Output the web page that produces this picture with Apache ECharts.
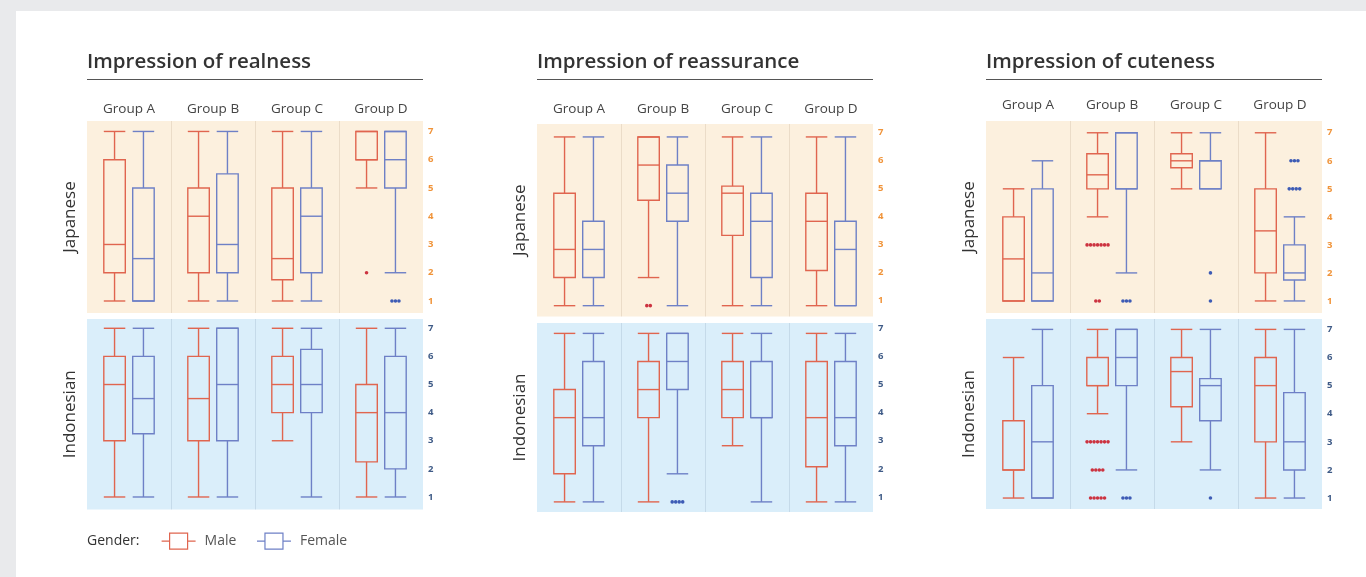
<!DOCTYPE html>
<html>
<head>
<meta charset="utf-8">
<title>Impression ratings by group, gender and country</title>
<script src="https://cdn.jsdelivr.net/npm/echarts@6/dist/echarts.min.js"></script>
<style>
  html, body { margin: 0; padding: 0; background: #e9eaec; }
  #chart { width: 1366px; height: 577px; }
</style>
</head>
<body>
<div id="chart"></div>
<script>
// ---- data -------------------------------------------------------------
const groups = ['Group A', 'Group B', 'Group C', 'Group D'];
const genders = ['Male', 'Female'];
const panelTitles = ['Impression of realness', 'Impression of reassurance', 'Impression of cuteness'];
const rowNames = ['Japanese', 'Indonesian'];
const yTicks = [1, 2, 3, 4, 5, 6, 7];

// five-number summaries per group: [min, Q1, median, Q3, max]
const realJpMale   = [[1, 2, 3, 6, 7], [1, 2, 4, 5, 7], [1, 1.75, 2.5, 5, 7], [5, 6, 6, 7, 7]];
const realJpFemale = [[1, 1, 2.5, 5, 7], [1, 2, 3, 5.5, 7], [1, 2, 4, 5, 7], [2, 5, 6, 7, 7]];
const realIdMale   = [[1, 3, 5, 6, 7], [1, 3, 4.5, 6, 7], [3, 4, 5, 6, 7], [1, 2.25, 4, 5, 7]];
const realIdFemale = [[1, 3.25, 4.5, 6, 7], [1, 3, 5, 7, 7], [1, 4, 5, 6.25, 7], [1, 2, 4, 6, 7]];

const reasJpMale   = [[1, 2, 3, 5, 7], [2, 4.75, 6, 7, 7], [1, 3.5, 5, 5.25, 7], [1, 2.25, 4, 5, 7]];
const reasJpFemale = [[1, 2, 3, 4, 7], [1, 4, 5, 6, 7], [1, 2, 4, 5, 7], [1, 1, 3, 4, 7]];
const reasIdMale   = [[1, 2, 4, 5, 7], [1, 4, 5, 6, 7], [3, 4, 5, 6, 7], [1, 2.25, 4, 6, 7]];
const reasIdFemale = [[1, 3, 4, 6, 7], [2, 5, 6, 7, 7], [1, 4, 4, 6, 7], [1, 3, 4, 6, 7]];

const cuteJpMale   = [[1, 1, 2.5, 4, 5], [4, 5, 5.5, 6.25, 7], [5, 5.75, 6, 6.25, 7], [1, 2, 3.5, 5, 7]];
const cuteJpFemale = [[1, 1, 2, 5, 6], [2, 5, 5, 7, 7], [5, 5, 6, 6, 7], [1, 1.75, 2, 3, 4]];
const cuteIdMale   = [[1, 2, 2, 3.75, 6], [4, 5, 5, 6, 7], [3, 4.25, 5.5, 6, 7], [1, 3, 5, 6, 7]];
const cuteIdFemale = [[1, 1, 3, 5, 7], [2, 5, 6, 7, 7], [2, 3.75, 5, 5.25, 7], [1, 2, 3, 4.75, 7]];

// outlying responses: [group index, rating, number of respondents]
const realJpMaleOut   = [[3, 2, 1]];
const realJpFemaleOut = [[3, 1, 3]];
const realIdMaleOut   = [];
const realIdFemaleOut = [];
const reasJpMaleOut   = [[1, 1, 2]];
const reasJpFemaleOut = [];
const reasIdMaleOut   = [];
const reasIdFemaleOut = [[1, 1, 4]];
const cuteJpMaleOut   = [[1, 3, 7], [1, 1, 2]];
const cuteJpFemaleOut = [[1, 1, 3], [2, 2, 1], [2, 1, 1], [3, 6, 3], [3, 5, 4]];
const cuteIdMaleOut   = [[1, 3, 7], [1, 2, 4], [1, 1, 5]];
const cuteIdFemaleOut = [[1, 1, 3], [2, 1, 1]];

const panelData = [
  { boxes: [[realJpMale, realJpFemale], [realIdMale, realIdFemale]],
    outliers: [[realJpMaleOut, realJpFemaleOut], [realIdMaleOut, realIdFemaleOut]] },
  { boxes: [[reasJpMale, reasJpFemale], [reasIdMale, reasIdFemale]],
    outliers: [[reasJpMaleOut, reasJpFemaleOut], [reasIdMaleOut, reasIdFemaleOut]] },
  { boxes: [[cuteJpMale, cuteJpFemale], [cuteIdMale, cuteIdFemale]],
    outliers: [[cuteJpMaleOut, cuteJpFemaleOut], [cuteIdMaleOut, cuteIdFemaleOut]] }
];

// ---- layout & style ---------------------------------------------------
const FONT = '"Open Sans", Lato, sans-serif';
const panelLeft = [87, 537, 986];
const panelWidth = 336;
const rowTop = [[121, 319], [124, 323], [121, 319]];
const rowHeight = [[192, 190.5], [192.5, 189], [192, 190]];
const rowYRange = [
  [[0.575, 7.37], [0.555, 7.33]],
  [[0.615, 7.46], [0.64, 7.37]],
  [[0.57, 7.42], [0.61, 7.37]]
];
// the middle panel's scale numbers sit a few pixels above its marks
const tickLabelAlign = ['middle', 'bottom', 'middle'];
const groupLabelMargin = [5, 8, 8.5];
const rowBg = ['#fcf0de', '#daeefa'];
const rowSplit = ['rgba(150,120,90,0.16)', 'rgba(90,120,150,0.16)'];
const rowTickColor = ['#f0943a', '#3f5b87'];
const boxColor = ['#e0654f', '#6e80c6'];
const dotColor = ['#cc3340', '#3d5bb5'];
const boxOffset = [-0.172, 0.172];   // fraction of the group band
const BOX_W = 21.5;
const LINE_W = 1.4;
const DOT_R = 1.8;
const DOT_STEP = 3.5;

function renderBox(offsetFrac, color) {
  return function (params, api) {
    const band = api.size([1, 0])[0];
    const g = api.value(0);
    const cx = api.coord([g, 0])[0] + offsetFrac * band;
    const y = (i) => api.coord([g, api.value(i)])[1];
    const yMin = y(1), yQ1 = y(2), yMed = y(3), yQ3 = y(4), yMax = y(5);
    const h = BOX_W / 2;
    const st = { stroke: color, lineWidth: LINE_W, fill: null };
    return {
      type: 'group',
      children: [
        { type: 'line', shape: { x1: cx, y1: yMax, x2: cx, y2: yQ3 }, style: st },
        { type: 'line', shape: { x1: cx, y1: yQ1, x2: cx, y2: yMin }, style: st },
        { type: 'line', shape: { x1: cx - h, y1: yMax, x2: cx + h, y2: yMax }, style: st },
        { type: 'line', shape: { x1: cx - h, y1: yMin, x2: cx + h, y2: yMin }, style: st },
        { type: 'rect', shape: { x: cx - h, y: yQ3, width: BOX_W, height: yQ1 - yQ3 }, style: st },
        { type: 'line', shape: { x1: cx - h, y1: yMed, x2: cx + h, y2: yMed }, style: st }
      ]
    };
  };
}

function renderDots(offsetFrac, color) {
  return function (params, api) {
    const band = api.size([1, 0])[0];
    const p = api.coord([api.value(0), api.value(1)]);
    const cx = p[0] + offsetFrac * band;
    const n = api.value(2);
    const children = [];
    for (let k = 0; k < n; k++) {
      children.push({
        type: 'circle',
        shape: { cx: cx + (k - (n - 1) / 2) * DOT_STEP, cy: p[1], r: DOT_R },
        style: { fill: color }
      });
    }
    return { type: 'group', children: children };
  };
}

const grid = [], xAxis = [], yAxis = [], series = [], title = [], graphic = [];

// white card on the grey page
graphic.push({ type: 'rect', shape: { x: 16, y: 11, width: 1366 - 16, height: 577 - 11 },
  style: { fill: '#ffffff' }, z: -10, silent: true });

panelData.forEach(function (panel, p) {
  title.push({
    text: panelTitles[p], left: panelLeft[p], top: 52, padding: 0,
    textStyle: { fontFamily: FONT, fontSize: 20.5, fontWeight: 600, color: '#333333' }
  });
  graphic.push({ type: 'line', shape: { x1: panelLeft[p], y1: 79.5, x2: panelLeft[p] + panelWidth, y2: 79.5 },
    style: { stroke: '#555555', lineWidth: 1 }, silent: true });

  rowNames.forEach(function (row, r) {
    const gi = grid.length;
    grid.push({
      left: panelLeft[p], top: rowTop[p][r], width: panelWidth, height: rowHeight[p][r],
      show: true, backgroundColor: rowBg[r], borderWidth: 0
    });
    xAxis.push({
      type: 'category', gridIndex: gi, data: groups, position: 'top', boundaryGap: true,
      axisLine: { show: false }, axisTick: { show: false },
      axisLabel: { show: r === 0, margin: groupLabelMargin[p], fontFamily: FONT, fontSize: 13.5, color: '#444444' },
      splitLine: { show: true, showMinLine: false, showMaxLine: false,
        lineStyle: { color: rowSplit[r], width: 1 } }
    });
    yAxis.push({
      type: 'value', gridIndex: gi, position: 'right',
      min: rowYRange[p][r][0], max: rowYRange[p][r][1],
      axisLine: { show: false }, axisTick: { show: false }, splitLine: { show: false },
      axisLabel: { customValues: yTicks, margin: 5, fontFamily: FONT, fontSize: 9.5,
        fontWeight: 'bold', color: rowTickColor[r], verticalAlign: tickLabelAlign[p] }
    });
    graphic.push({
      type: 'text', x: panelLeft[p] - 17, y: rowTop[p][r] + rowHeight[p][r] / 2, rotation: Math.PI / 2,
      style: { text: row, fontFamily: FONT, fontSize: 17, fill: '#333333', align: 'center', verticalAlign: 'middle' },
      silent: true
    });

    genders.forEach(function (gender, s) {
      series.push({
        type: 'custom', name: gender, xAxisIndex: gi, yAxisIndex: gi,
        itemStyle: { color: boxColor[s], borderColor: boxColor[s] },
        renderItem: renderBox(boxOffset[s], boxColor[s]),
        encode: { x: 0, y: [1, 2, 3, 4, 5] },
        data: panel.boxes[r][s].map(function (v, i) { return [i].concat(v); })
      });
      series.push({
        type: 'custom', name: gender, xAxisIndex: gi, yAxisIndex: gi,
        itemStyle: { color: dotColor[s] },
        renderItem: renderDots(boxOffset[s], dotColor[s]),
        encode: { x: 0, y: 1 },
        data: panel.outliers[r][s]
      });
    });
  });
});

graphic.push({
  type: 'text', x: 87, y: 541,
  style: { text: 'Gender:', fontFamily: FONT, fontSize: 14, fill: '#333333', verticalAlign: 'middle' },
  silent: true
});

const legendIcon = 'path://M0,8.5L8,8.5M8,0.5L26,0.5L26,16.5L8,16.5ZM26,8.5L34,8.5';

const chart = echarts.init(document.getElementById('chart'), null, { renderer: 'canvas' });
chart.setOption({
  backgroundColor: '#e9eaec',
  animation: false,
  title: title,
  grid: grid,
  xAxis: xAxis,
  yAxis: yAxis,
  legend: {
    left: 161, top: 532.5, padding: 0, itemWidth: 34, itemHeight: 17, itemGap: 20,
    textStyle: { fontFamily: FONT, fontSize: 14, color: '#555555', padding: [0, 0, 0, 4] },
    data: genders.map(function (g, s) {
      return { name: g, icon: legendIcon,
        itemStyle: { color: '#ffffff', borderColor: boxColor[s], borderWidth: 1.2 } };
    })
  },
  graphic: graphic,
  series: series
});
</script>
</body>
</html>
